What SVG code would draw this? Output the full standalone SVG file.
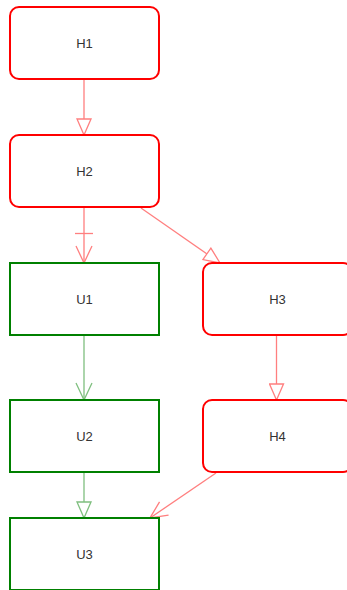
<svg xmlns="http://www.w3.org/2000/svg" width="347" height="590" viewBox="0 0 347 590">
<style>
.hn rect{fill:#fff;stroke:#ff0000;stroke-width:2}
.un rect{fill:#fff;stroke:#008000;stroke-width:2}
text{font-family:"Liberation Sans",Arial,sans-serif;font-size:13px;fill:#333;text-anchor:middle;dominant-baseline:central}
.er{stroke:#ff7f7f;stroke-width:1.3;fill:none}
.eg{stroke:#7fbf7f;stroke-width:1.3;fill:none}
</style>
<defs>
<marker id="triR" markerUnits="userSpaceOnUse" viewBox="-1 -1 18 16" markerWidth="18" markerHeight="16" refX="16" refY="7" orient="auto"><path d="M0,0 L16,7 L0,14 Z" fill="#fff" stroke="#ff7f7f" stroke-width="1.3"/></marker>
<marker id="triG" markerUnits="userSpaceOnUse" viewBox="-1 -1 18 16" markerWidth="18" markerHeight="16" refX="16" refY="7" orient="auto"><path d="M0,0 L16,7 L0,14 Z" fill="#fff" stroke="#7fbf7f" stroke-width="1.3"/></marker>
<marker id="openR" markerUnits="userSpaceOnUse" viewBox="-1 -1 19 18" markerWidth="19" markerHeight="18" refX="17" refY="8" orient="auto"><path d="M0,0 L17,8 L0,16" fill="none" stroke="#ff7f7f" stroke-width="1.3"/></marker>
<marker id="openG" markerUnits="userSpaceOnUse" viewBox="-1 -1 19 18" markerWidth="19" markerHeight="18" refX="17" refY="8" orient="auto"><path d="M0,0 L17,8 L0,16" fill="none" stroke="#7fbf7f" stroke-width="1.3"/></marker>
</defs>
<g id="edges">
<path class="er" d="M84,80 L84,135" marker-end="url(#triR)"/>
<path class="er" d="M84,208 L84,263" marker-end="url(#openR)"/>
<path class="er" d="M75,233.5 L93,233.5"/>
<path class="er" d="M141,208 L220,263" marker-end="url(#triR)"/>
<path class="er" d="M276.5,336 L276.5,400" marker-end="url(#triR)"/>
<path class="eg" d="M84,336 L84,400" marker-end="url(#openG)"/>
<path class="eg" d="M84,473 L84,518" marker-end="url(#triG)"/>
<path class="er" d="M216,473 L150,518" marker-end="url(#openR)"/>
</g>
<g id="H1" class="hn"><rect x="10" y="7" width="149" height="72" rx="9"/><text x="84.5" y="43">H1</text></g>
<g id="H2" class="hn"><rect x="10" y="135" width="149" height="72" rx="9"/><text x="84.5" y="171">H2</text></g>
<g id="U1" class="un"><rect x="10" y="263" width="149" height="72"/><text x="84.5" y="299">U1</text></g>
<g id="H3" class="hn"><rect x="203" y="263" width="149" height="72" rx="9"/><text x="277.5" y="299">H3</text></g>
<g id="U2" class="un"><rect x="10" y="400" width="149" height="72"/><text x="84.5" y="436">U2</text></g>
<g id="H4" class="hn"><rect x="203" y="400" width="149" height="72" rx="9"/><text x="277.5" y="436">H4</text></g>
<g id="U3" class="un"><rect x="10" y="518" width="149" height="72"/><text x="84.5" y="554">U3</text></g>
</svg>
